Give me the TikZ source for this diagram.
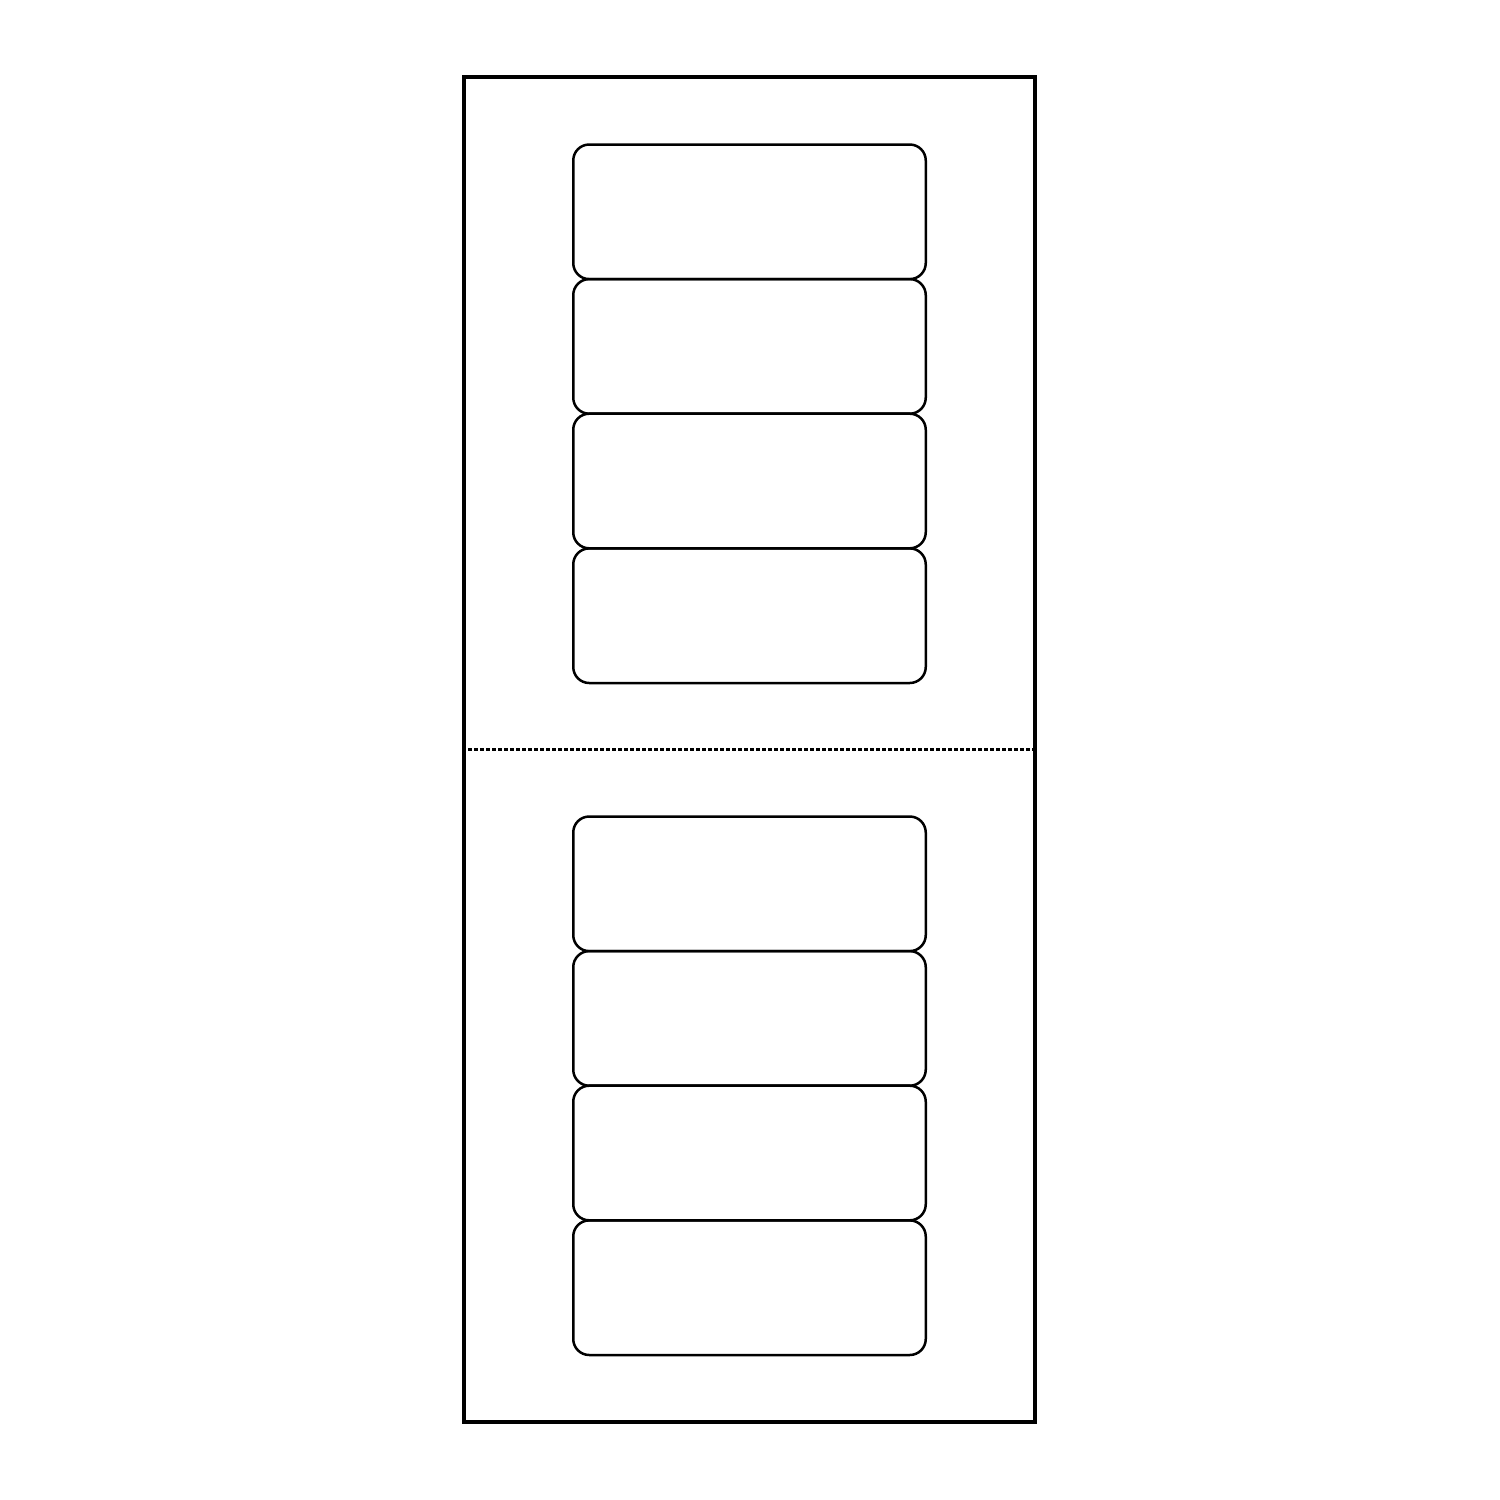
\documentclass[tikz,border=0pt]{standalone}
\begin{document}
\begin{tikzpicture}[x=1pt,y=-1pt,
  frame/.style={draw=black,line width=4pt,minimum width=571pt,minimum height=1345pt,inner sep=0pt},
  slot/.style={draw=black,line width=2.5pt,rounded corners=16pt,minimum width=352.5pt,minimum height=134.6pt,inner sep=0pt},
  fold/.style={line width=2.6pt,dash pattern=on 4pt off 2pt}]
\useasboundingbox (0,0) rectangle (1500,1500);
\node[frame] (outer) at (749.5,749.5) {};
\draw[fold] (outer.west) -- (outer.east);
\node[slot] (a1) at (749.5,211.8) {};
\node[slot] (a2) at (749.5,346.4) {};
\node[slot] (a3) at (749.5,481.0) {};
\node[slot] (a4) at (749.5,615.7) {};
\node[slot] (b1) at (749.5,883.8) {};
\node[slot] (b2) at (749.5,1018.4) {};
\node[slot] (b3) at (749.5,1153.0) {};
\node[slot] (b4) at (749.5,1287.7) {};
\end{tikzpicture}
\end{document}
